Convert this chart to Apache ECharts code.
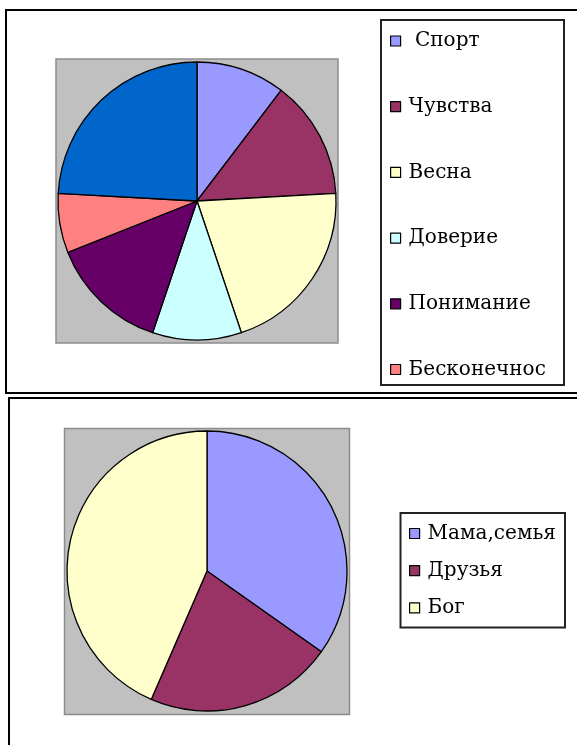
<!DOCTYPE html>
<html>
<head>
<meta charset="utf-8">
<script src="https://cdn.jsdelivr.net/npm/echarts@6/dist/echarts.min.js"></script>
<style>
  html, body { margin: 0; padding: 0; background: #ffffff; }
  #chart { width: 577px; height: 745px; }
</style>
</head>
<body>
<div id="chart"></div>
<script>
// ---- Data ----
const topCategories = ['Спорт', 'Чувства', 'Весна', 'Доверие', 'Понимание', 'Бесконечнос', ''];
const topValues = [3, 4, 6, 3, 4, 2, 7];
const topColors = ['#9999FF', '#993366', '#FFFFCC', '#CCFFFF', '#660066', '#FF8080', '#0066CC'];
const topLegendNames = topCategories.slice(0, 6);

const bottomCategories = ['Мама,семья', 'Друзья', 'Бог'];
const bottomValues = [8, 5, 10];
const bottomColors = ['#9999FF', '#993366', '#FFFFCC'];

// ---- Build options ----
function toData(names, values, colors) {
  return names.map(function (n, i) {
    return { name: n, value: values[i], itemStyle: { color: colors[i] } };
  });
}

const fontFamily = '"DejaVu Serif", "Liberation Serif", serif';

const pieBase = {
  type: 'pie',
  startAngle: 90,
  clockwise: true,
  silent: true,
  animation: false,
  avoidLabelOverlap: false,
  label: { show: false },
  labelLine: { show: false },
  itemStyle: { borderColor: '#000000', borderWidth: 1.3 },
  emphasis: { disabled: true }
};

const legendBase = {
  orient: 'vertical',
  icon: 'rect',
  itemWidth: 10,
  itemHeight: 10,
  padding: 0,
  selectedMode: false,
  itemStyle: { borderColor: '#000000', borderWidth: 1.2 },
  textStyle: {
    fontFamily: fontFamily,
    fontSize: 20,
    lineHeight: 20,
    color: '#000000',
    padding: [0, 0, 0, 3]
  }
};

const option = {
  backgroundColor: '#ffffff',
  animation: false,
  graphic: [
    // outer frames
    { type: 'rect', z: 0, shape: { x: 6, y: 10, width: 600, height: 383 },
      style: { fill: null, stroke: '#000000', lineWidth: 2 } },
    { type: 'rect', z: 0, shape: { x: 9, y: 398, width: 600, height: 400 },
      style: { fill: null, stroke: '#000000', lineWidth: 2 } },
    // plot areas
    { type: 'rect', z: 0, shape: { x: 56, y: 59, width: 282, height: 284 },
      style: { fill: '#C0C0C0', stroke: '#8c8c8c', lineWidth: 1.5 } },
    { type: 'rect', z: 0, shape: { x: 64.5, y: 428.5, width: 285, height: 286 },
      style: { fill: '#C0C0C0', stroke: '#8c8c8c', lineWidth: 1.5 } },
    // legend boxes
    { type: 'rect', z: 0, shape: { x: 381, y: 20, width: 183, height: 365 },
      style: { fill: '#ffffff', stroke: '#222222', lineWidth: 2 } },
    { type: 'rect', z: 0, shape: { x: 400.5, y: 513, width: 164.5, height: 114.5 },
      style: { fill: '#ffffff', stroke: '#222222', lineWidth: 2 } }
  ],
  legend: [
    Object.assign({}, legendBase, {
      left: 390,
      top: 31,
      itemGap: 45.7,
      data: topLegendNames,
      formatter: function (name) { return name === topCategories[0] ? ' ' + name : name; }
    }),
    Object.assign({}, legendBase, {
      left: 409,
      top: 523.5,
      itemGap: 17.2,
      data: bottomCategories
    })
  ],
  series: [
    Object.assign({}, pieBase, {
      name: 'top',
      center: [197, 201],
      radius: [0, 139],
      data: toData(topCategories, topValues, topColors)
    }),
    Object.assign({}, pieBase, {
      name: 'bottom',
      center: [207, 571],
      radius: [0, 140],
      data: toData(bottomCategories, bottomValues, bottomColors)
    })
  ]
};

const chart = echarts.init(document.getElementById('chart'), null, { renderer: 'canvas' });
chart.setOption(option);
</script>
</body>
</html>
